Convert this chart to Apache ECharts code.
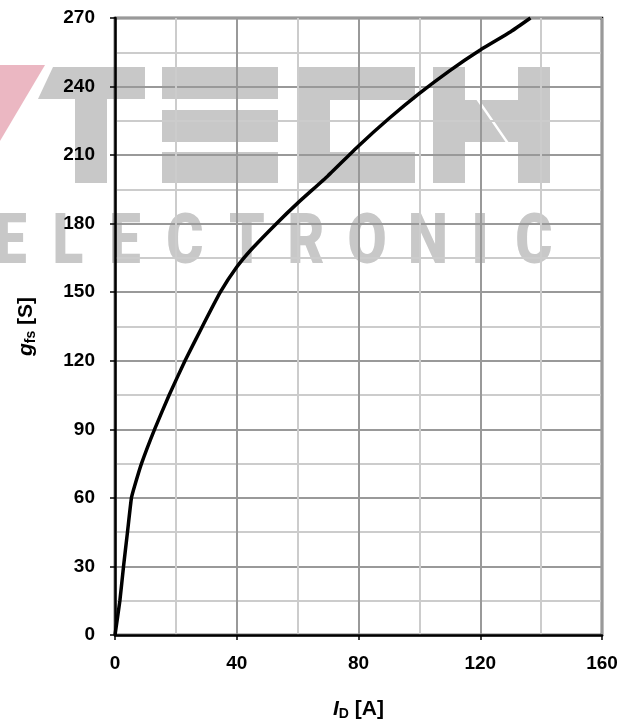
<!DOCTYPE html>
<html>
<head>
<meta charset="utf-8">
<script src="https://cdn.jsdelivr.net/npm/echarts@6/dist/echarts.min.js"></script>
<style>
html,body{margin:0;padding:0;background:#fff}
#wrap{position:relative;width:630px;height:721px}
#wm,#c{position:absolute;left:0;top:0;width:630px;height:721px}
#wm{z-index:0}#c{z-index:1}
</style>
</head>
<body>
<div id="wrap"><div id="wm"></div><div id="c"></div></div>
<script>
// Data
const idValues = [0, 1.6, 2.8, 4.1, 5.4, 6.4, 8.7, 13, 17.8, 23, 28.7, 34.6, 40, 45, 53, 60, 70, 80, 90, 100, 110, 120, 130, 136.5];
const gfsValues = [0, 15, 30, 45, 60, 65, 75, 90, 105, 120, 135, 150, 161, 169, 180, 189, 201, 214, 226, 237, 247, 256, 264, 270];
const xTicks = [0, 40, 80, 120, 160];
const yTicks = [0, 30, 60, 90, 120, 150, 180, 210, 240, 270];
const watermarkLetters = ['E', 'L', 'E', 'C', 'T', 'R', 'O', 'N', 'I', 'C'];
const watermarkCenters = [11, 68, 125, 185, 247, 306, 367, 428, 480, 534];

const FONT = '"Liberation Sans", Arial, sans-serif';
const WM = '#c8c8c8';
const PINK = '#ebb7c2';

function poly(points, fill) {
  return {type: 'polygon', shape: {points: points}, style: {fill: fill || WM}};
}
function box(x, y, w, h) {
  return poly([[x, y], [x + w, y], [x + w, y + h], [x, y + h]]);
}

const wmElements = [
  poly([[0,65],[45,65],[0,141]], PINK),
  poly([[53,67],[145,67],[145,99],[107,99],[107,183],[75,183],[75,99],[38,99]]),
  box(162, 67, 116, 32),
  box(162, 110, 116, 32),
  box(162, 152, 116, 31),
  poly([[297,67],[415,67],[415,100],[330,100],[330,152],[415,152],[415,183],[297,183]]),
  poly([[433,67],[465,67],[465,100],[476.5,100],[505.5,142],[465,142],[465,183],[433,183]]),
  poly([[518,67],[550,67],[550,183],[518,183],[518,142],[508.5,142],[479.5,100],[518,100]])
];
watermarkLetters.forEach((ch, i) => {
  wmElements.push({
    type: 'text', x: watermarkCenters[i], y: 245, scaleX: 0.8,
    style: {text: ch, fill: WM, font: '900 71px Roboto, Inter, "Liberation Sans", sans-serif', align: 'center', verticalAlign: 'middle'}
  });
});

// background watermark layer
const wmChart = echarts.init(document.getElementById('wm'), null, {renderer: 'canvas'});
wmChart.setOption({animation: false, backgroundColor: '#ffffff', graphic: {elements: wmElements}});

const nameRich = {
  i: {fontFamily: FONT, fontWeight: 'bold', fontStyle: 'italic', fontSize: 21, color: '#000'},
  sub: {fontFamily: FONT, fontWeight: 'bold', fontSize: 14, color: '#000', padding: [9, 0, 0, 0]},
  t: {fontFamily: FONT, fontWeight: 'bold', fontSize: 21, color: '#000'}
};

const chart = echarts.init(document.getElementById('c'), null, {renderer: 'canvas'});
chart.setOption({
  animation: false,
  backgroundColor: 'transparent',
  grid: {left: 115, right: 28, top: 18, bottom: 86, outerBoundsMode: 'none', containLabel: false,
    show: true, borderColor: '#000', borderWidth: 2.5, backgroundColor: 'transparent'},
  xAxis: {
    type: 'value', min: 0, max: 160, interval: 40,
    name: '{i|I}{sub|D}{t| [A]}', nameLocation: 'middle', nameGap: 63,
    nameTextStyle: {rich: nameRich},
    axisLine: {show: true, lineStyle: {color: '#000', width: 2.5}},
    axisTick: {show: true, length: 5, lineStyle: {color: '#000', width: 1.5}},
    axisLabel: {fontFamily: FONT, fontWeight: 'bold', fontSize: 19, color: '#000', margin: 19,
      formatter: v => xTicks.includes(v) ? String(v) : ''},
    splitLine: {show: true, lineStyle: {color: '#999999', width: 2}},
    minorTick: {show: false, splitNumber: 2},
    minorSplitLine: {show: true, lineStyle: {color: '#cccccc', width: 2}}
  },
  yAxis: {
    type: 'value', min: 0, max: 270, interval: 30,
    name: '{i|g}{sub|fs}{t| [S]}', nameLocation: 'middle', nameGap: 77, nameRotate: 90,
    nameTextStyle: {rich: nameRich},
    axisLine: {show: true, lineStyle: {color: '#000', width: 2.5}},
    axisTick: {show: true, length: 5, lineStyle: {color: '#000', width: 1.5}},
    axisLabel: {fontFamily: FONT, fontWeight: 'bold', fontSize: 19, color: '#000', margin: 20,
      formatter: v => yTicks.includes(v) ? String(v) : ''},
    splitLine: {show: true, lineStyle: {color: '#999999', width: 2}},
    minorTick: {show: false, splitNumber: 2},
    minorSplitLine: {show: true, lineStyle: {color: '#cccccc', width: 2}}
  },
  series: [{
    type: 'line', data: idValues.map((x, i) => [x, gfsValues[i]]),
    smooth: 0.15, showSymbol: false, symbol: 'none', clip: true,
    lineStyle: {color: '#000', width: 3.5}, z: 5
  }]
});
</script>
</body>
</html>
